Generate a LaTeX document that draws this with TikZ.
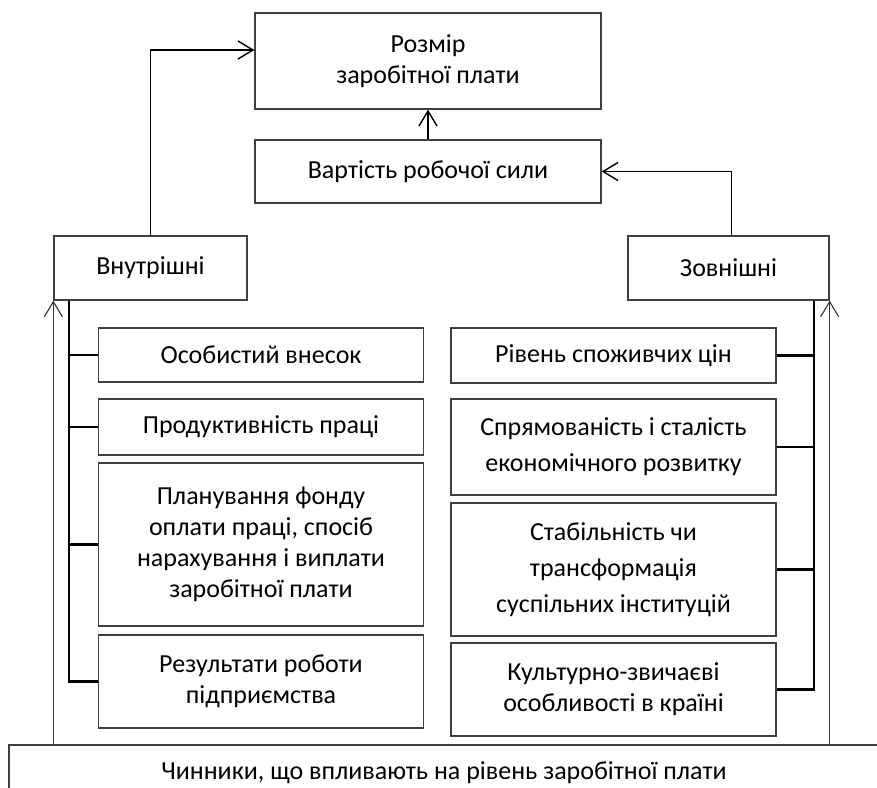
\documentclass[tikz,border=0pt]{standalone}
\usepackage{fontspec}
\setmainfont{Carlito}
\usetikzlibrary{arrows.meta,positioning}

\begin{document}
\begin{tikzpicture}[x=1pt, y=-1pt, >={Straight Barb[length=15pt,width=18pt]}]
    \tikzstyle{box}=[draw=black!75, line width=1.3pt, inner sep=0pt, align=center, font=\fontsize{26}{31}\selectfont]
    \tikzstyle{wide}=[font=\fontsize{26}{36}\selectfont]
    \tikzstyle{bus}=[line width=2.2pt]
    \tikzstyle{link}=[->, line width=1.4pt]
    \useasboundingbox (0,0) rectangle (877,787);
    % top
    \node[box, minimum width=346pt, minimum height=96pt] (size) at (428,61) {Розмір\\заробітної плати};
    \node[box, minimum width=346pt, minimum height=63pt] (cost) at (428,171.5) {Вартість робочої сили};
    \node[box, minimum width=193pt, minimum height=64pt] (inner) at (150.5,268) {Внутрішні};
    \node[box, minimum width=201pt, minimum height=64pt] (outer) at (728.5,268) {Зовнішні};
    % left column
    \foreach \i/\y/\h/\t in {1/355/54/{Особистий внесок}, 2/427/56/{Продуктивність праці},
        3/544.5/163/{Планування фонду\\оплати праці, спосіб\\нарахування і виплати\\заробітної плати},
        4/681.5/93/{Результати роботи\\підприємства}} {
        \node[box, minimum width=325pt, minimum height=\h pt] (in\i) at (261,\y) {\t};
    }
    % right column
    \node[box, minimum width=325pt, minimum height=55pt] (ex1) at (613.5,355.5) {Рівень споживчих цін};
    \node[box, wide, minimum width=325pt, minimum height=96pt] (ex2) at (613.5,447) {Спрямованість і сталість\\економічного розвитку};
    \node[box, wide, minimum width=325pt, minimum height=133pt] (ex3) at (613.5,569.5) {Стабільність чи\\трансформація\\суспільних інституцій};
    \node[box, minimum width=325pt, minimum height=93pt] (ex4) at (613.5,689.5) {Культурно-звичаєві\\особливості в країні};
    % bottom
    \node[box, minimum width=870pt, minimum height=56pt] (base) at (444,773) {Чинники, що впливають на рівень заробітної плати};

    \draw[link] (cost) -- (size);
    \draw[link] (inner.north) |- ([yshift=11pt]size.west);
    \draw[link] ([xshift=3pt]outer.north) |- (cost.east);
    \draw[link, line width=1.1pt, black!80] (inner.south west |- base.north) -- (inner.south west);
    \draw[link, line width=1.1pt, black!80] (outer.south east |- base.north) -- (outer.south east);

    \draw[bus] ([xshift=16pt]inner.south west) |- (in4.west);
    \draw[bus] ([xshift=-16pt]outer.south east) |- (ex4.east);
    \foreach \i in {1,2,3} {
        \draw[bus] (in\i.west) -- ([xshift=16pt]in\i.west -| inner.south west);
        \draw[bus] (ex\i.east) -- ([xshift=-16pt]ex\i.east -| outer.south east);
    }
\end{tikzpicture}
\end{document}
